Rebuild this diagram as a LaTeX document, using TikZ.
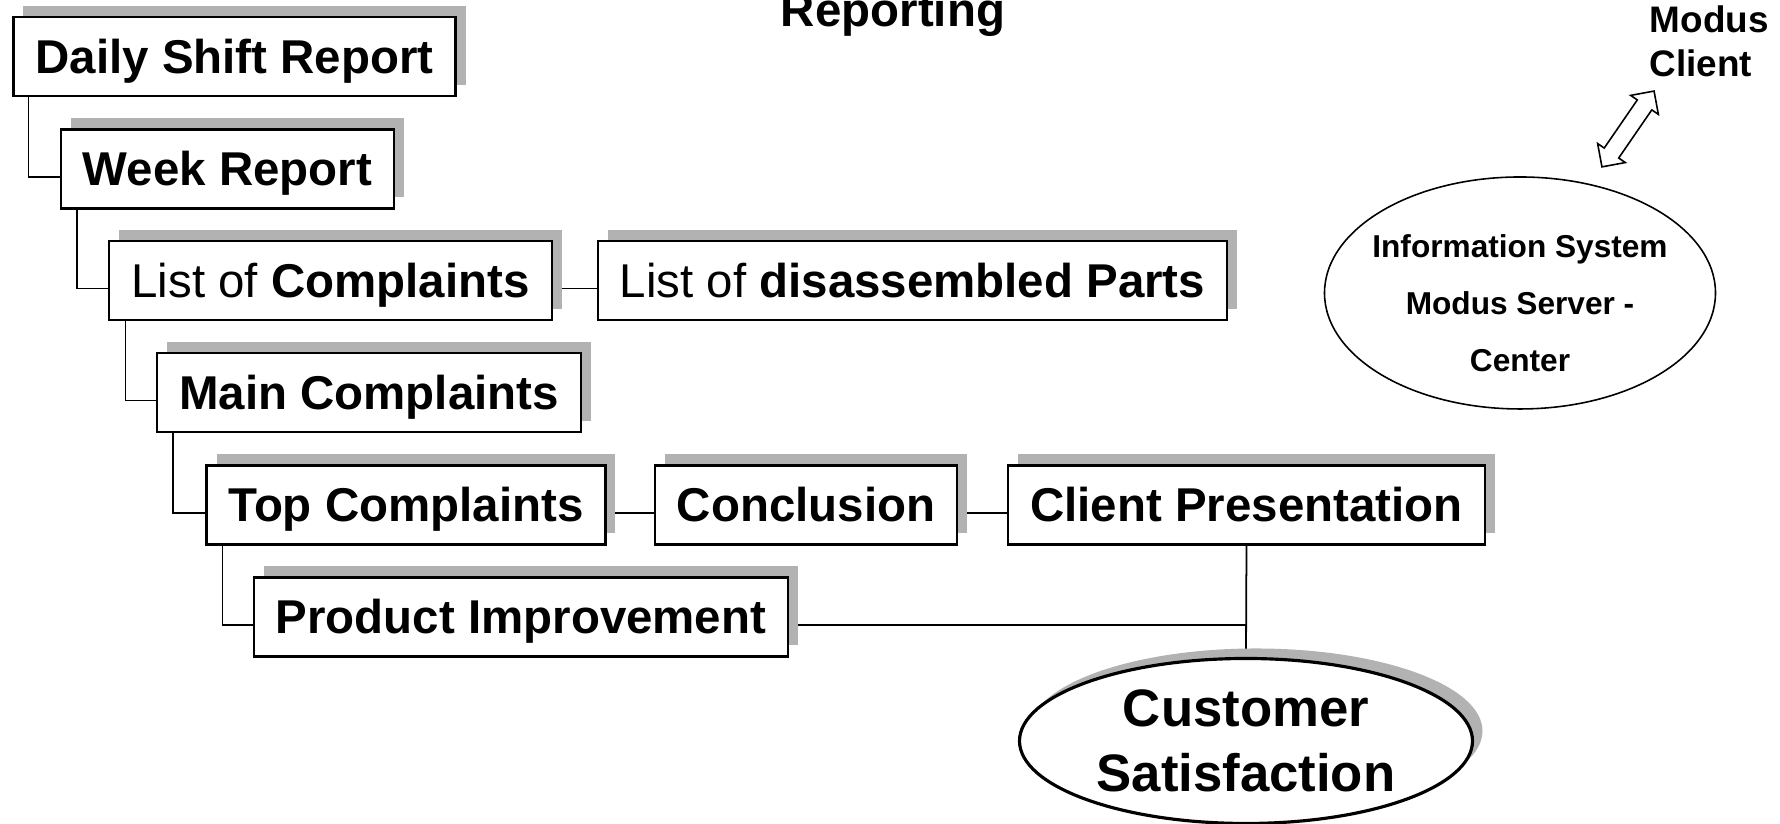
\documentclass[tikz,border=0pt]{standalone}
\usepackage{fontspec}
\setmainfont{Liberation Sans}
\usepackage{tikz}
\usetikzlibrary{shapes.geometric,shapes.arrows,shadows,backgrounds}

\begin{document}
\begin{tikzpicture}[
    report/.style={draw, fill=white, line width=0.6pt, inner xsep=0.22cm, minimum height=0.79cm,
      text height=0.34cm, text depth=0cm,
      font=\fontsize{13.5}{16}\selectfont\bfseries,
      drop shadow={shadow xshift=0.1cm, shadow yshift=0.11cm, fill=black!30, opacity=1}},
    conn/.style={line width=0.5pt}]
  \useasboundingbox (0,0) rectangle (17.8,8.24);

  \node (title) [anchor=base, font=\fontsize{13.5}{16}\selectfont\bfseries] at (8.93,7.97) {Reporting};

  \node[report] (daily)      at (2.345,7.675) {Daily Shift Report};
  \node[report] (week)       at (2.275,6.55)  {Week Report};
  \node[report] (listc)      at (3.305,5.435) {{\mdseries List of} Complaints};
  \node[report] (listd)      at (9.125,5.435) {{\mdseries List of} disassembled Parts};
  \node[report] (mainc)      at (3.69,4.315)  {Main Complaints};
  \node[report] (topc)       at (4.06,3.19)   {Top Complaints};
  \node[report] (conclusion) at (8.06,3.19)   {Conclusion};
  \node[report] (clientp)    at (12.465,3.19) {Client Presentation};
  \node[report] (product)    at (5.21,2.07)   {Product Improvement};

  \node[ellipse, draw, fill=white, line width=0.9pt, minimum width=4.53cm, minimum height=1.65cm,
    inner sep=0, align=center, font=\fontsize{15}{18.5}\selectfont\bfseries,
    drop shadow={shadow xshift=0.1cm, shadow yshift=0.1cm, fill=black!30, opacity=1}]
    (customer) at (12.46,0.83) {Customer\\Satisfaction};

  % server and client
  \node[ellipse, draw, line width=0.45pt, minimum width=3.91cm, minimum height=2.32cm] (infosys) at (15.20,5.31) {};
  \node[align=center, inner sep=0, font=\fontsize{9}{16.2}\selectfont\bfseries]
    (infotext) at (15.20,5.21) {Information System\\Modus Server -\\Center};
  \node[anchor=north west, inner sep=0, align=left, font=\fontsize{10.5}{12.5}\selectfont\bfseries]
    (client) at (16.49,8.19) {Modus\\Client};
  \node[double arrow, draw, line width=0.45pt, fill=white, minimum height=0.92cm, inner xsep=0,
    inner ysep=0.08cm, double arrow head extend=0.08cm, rotate=55.5] (sync) at (16.28,6.95) {};

  \begin{scope}[on background layer]
    \draw[conn] ([xshift=0.16cm]daily.south west) |- ([yshift=-0.08cm]week.west);
    \draw[conn] ([xshift=0.17cm]week.south west)  |- ([yshift=-0.08cm]listc.west);
    \draw[conn] ([xshift=0.17cm]listc.south west) |- ([yshift=-0.08cm]mainc.west);
    \draw[conn] ([xshift=0.17cm]mainc.south west) |- ([yshift=-0.08cm]topc.west);
    \draw[conn] ([xshift=0.17cm]topc.south west)  |- ([yshift=-0.08cm]product.west);
    \draw[conn] ([yshift=-0.08cm]listc.east) -- ([yshift=-0.08cm]listd.west);
    \draw[conn] ([yshift=-0.08cm]topc.east) -- ([yshift=-0.08cm]conclusion.west);
    \draw[conn] ([yshift=-0.08cm]conclusion.east) -- ([yshift=-0.08cm]clientp.west);
    \draw[conn] (clientp.south) -- (customer.north);
    \draw[conn] ([yshift=-0.08cm]product.east) -| (customer.north);
  \end{scope}
\end{tikzpicture}
\end{document}
